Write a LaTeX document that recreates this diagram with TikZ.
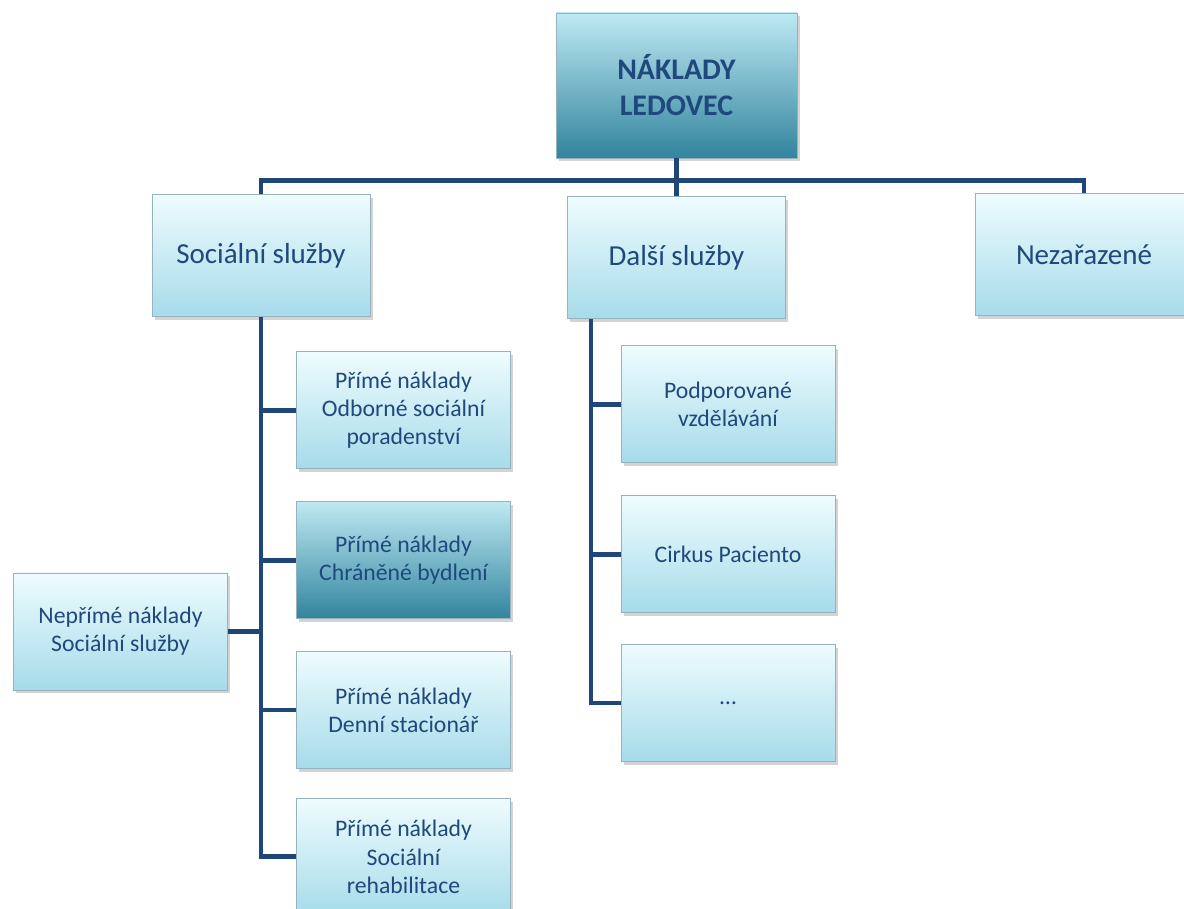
\documentclass[tikz,border=0pt]{standalone}
\usepackage{fontspec}
\setmainfont{Carlito}
\usepackage{tikz}
\usetikzlibrary{positioning, shadows}
\definecolor{textblue}{RGB}{31,73,125}
\definecolor{linkblue}{RGB}{31,70,120}
\definecolor{icetop}{RGB}{238,252,254}
\definecolor{icebottom}{RGB}{166,219,234}
\definecolor{deeptop}{RGB}{190,233,243}
\definecolor{deepbottom}{RGB}{50,132,157}
\definecolor{bevel}{RGB}{150,178,188}
\tikzset{
  boxice/.style={
    rectangle, top color=icetop, bottom color=icebottom,
    draw=bevel, line width=0.5pt,
    text=textblue, align=center, inner sep=4pt,
    drop shadow={opacity=0.35, shadow xshift=0.5mm, shadow yshift=-0.7mm}
  },
  boxdeep/.style={top color=deeptop, bottom color=deepbottom},
  boxtop/.style={
    boxice, boxdeep,
    minimum width=4.82cm, minimum height=2.9cm,
    font=\fontsize{17}{20.5}\selectfont\bfseries
  },
  boxmain/.style={
    boxice,
    minimum width=4.36cm, minimum height=2.44cm,
    font=\fontsize{16.5}{20}\selectfont
  },
  boxsmall/.style={
    boxice,
    minimum width=4.28cm, minimum height=2.34cm,
    font=\fontsize{13.5}{16}\selectfont
  },
  line/.style={draw=linkblue, line width=2.8pt}
}

\begin{document}
\begin{tikzpicture}
  \useasboundingbox (0,0) rectangle (23.68,18.16);

  \node[boxtop] (naklady) at (13.53,16.45) {NÁKLADY\\LEDOVEC};

  \node[boxmain, below=0.72cm of naklady, xshift=-8.31cm] (socialni) {Sociální služby};
  \node[boxmain, below=0.76cm of naklady] (dalsi) {Další služby};
  \node[boxmain, below=0.7cm of naklady, xshift=8.15cm] (nezarazene) {Nezařazené};

  % --- Sociální služby ---
  \node[boxsmall, below=0.68cm of socialni, xshift=2.85cm] (odborne) {Přímé náklady\\Odborné sociální\\poradenství};
  \node[boxsmall, boxdeep, below=0.64cm of odborne] (chranene) {Přímé náklady\\Chráněné bydlení};
  \node[boxsmall, below=0.64cm of chranene] (denni) {Přímé náklady\\Denní stacionář};
  \node[boxsmall, below=0.58cm of denni] (rehab) {Přímé náklady\\Sociální\\rehabilitace};
  \node[boxsmall] (neprime) at (2.41,5.53) {Nepřímé náklady\\Sociální služby};

  % --- Další služby ---
  \node[boxsmall, below=0.52cm of dalsi, xshift=1.03cm] (podpor) {Podporované\\vzdělávání};
  \node[boxsmall, below=0.64cm of podpor] (cirkus) {Cirkus Paciento};
  \node[boxsmall, below=0.62cm of cirkus] (tecky) {\dots};

  % --- Spojnice ---
  \draw[line] (naklady.south) -- (dalsi.north);
  \draw[line] (socialni.north) -- ++(0,0.28) -| (nezarazene.north);

  \draw[line] (socialni.south) |- (rehab.west);
  \draw[line] (socialni.south |- odborne.west) -- (odborne.west);
  \draw[line] (socialni.south |- chranene.west) -- (chranene.west);
  \draw[line] (socialni.south |- neprime.east) -- (neprime.east);
  \draw[line] (socialni.south |- denni.west) -- (denni.west);

  \coordinate (dtrunk) at ([xshift=-1.71cm]dalsi.south);
  \draw[line] (dtrunk) |- (tecky.west);
  \draw[line] (dtrunk |- podpor.west) -- (podpor.west);
  \draw[line] (dtrunk |- cirkus.west) -- (cirkus.west);

\end{tikzpicture}
\end{document}
